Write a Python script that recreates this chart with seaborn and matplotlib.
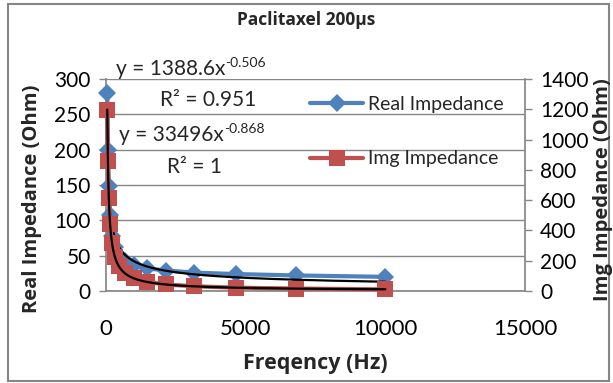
import numpy as np
import pandas as pd
import matplotlib
matplotlib.use("Agg")
import matplotlib.pyplot as plt
from matplotlib.patches import Rectangle
from matplotlib.lines import Line2D
import seaborn as sns

# Measured impedance of the Paclitaxel sample (200 µs pulse)
freq_hz = [46.4, 68.1, 100.0, 146.8, 215.4, 316.2, 464.2, 681.3, 1000.0,
           1467.8, 2154.4, 3162.3, 4641.6, 6812.9, 10000.0]
real_ohm = [280, 200, 148, 107, 78, 62, 50, 43, 37, 32, 29, 26, 24, 22, 20]
img_ohm = [1198, 858, 615, 441, 316, 227, 162, 116, 83, 60, 43, 31, 22, 16, 11]

# Power-law trendlines y = a * x^b with their R² values
real_fit = (1388.6, -0.506, "0.951")
img_fit = (33496, -0.868, "1")

x_ticks = [0, 5000, 10000, 15000]
real_ticks = [0, 50, 100, 150, 200, 250, 300]
img_ticks = [0, 200, 400, 600, 800, 1000, 1200, 1400]

BLUE = "#4F81BD"
RED = "#C0504D"
GREY = "#868686"

sns.set_theme(style="white")
plt.rcParams["font.family"] = ["Lato", "DejaVu Sans"]
BOLD = ["Open Sans", "DejaVu Sans"]

W, H = 613, 383
fig = plt.figure(figsize=(W / 100, H / 100), dpi=100)


def fx(px):
    return px / W


def fy(py):
    return 1 - py / H


# Chart border
fig.add_artist(Rectangle((fx(8), fy(381)), fx(601), 1 - 6 / H, transform=fig.transFigure,
                         fill=False, edgecolor=GREY, lw=1.5))

left, right, top, bottom = 106, 525, 79, 291
ax = fig.add_axes([fx(left), fy(bottom), fx(right - left), (bottom - top) / H])
ax2 = ax.twinx()

df = pd.DataFrame({"freq": freq_hz, "real": real_ohm, "img": img_ohm})

sns.lineplot(data=df, x="freq", y="real", ax=ax, color=BLUE, lw=3, marker="D",
             markersize=9.5, markeredgewidth=0, label="Real Impedance", legend=False,
             clip_on=False, zorder=3)
sns.lineplot(data=df, x="freq", y="img", ax=ax2, color=RED, lw=3, marker="s",
             markersize=11, markeredgewidth=0, label="Img Impedance", legend=False,
             clip_on=False, zorder=3)

# Trendlines
xs = np.geomspace(min(freq_hz), max(freq_hz), 400)
ax.plot(xs, real_fit[0] * xs ** real_fit[1], color="black", lw=1.6, zorder=4, clip_on=False)
ax2.plot(xs, img_fit[0] * xs ** img_fit[1], color="black", lw=1.6, zorder=4, clip_on=False)

ax.set_xlim(0, 15000)
ax.set_ylim(0, 300)
ax2.set_ylim(0, 1400)
ax.set_xticks(x_ticks)
ax.set_yticks(real_ticks)
ax2.set_yticks(img_ticks)
ax.set_xticklabels([str(t) for t in x_ticks], fontsize=16)
ax.set_yticklabels([str(t) for t in real_ticks], fontsize=15)
ax2.set_yticklabels([str(t) for t in img_ticks], fontsize=15)

ax.yaxis.grid(True, color=GREY, lw=1)
ax.xaxis.grid(False)
ax2.grid(False)
for a in (ax, ax2):
    for s in a.spines.values():
        s.set_visible(False)
        s.set_color(GREY)
ax.spines["left"].set_visible(True)
ax.spines["bottom"].set_visible(True)
ax2.spines["right"].set_visible(True)
for a in (ax, ax2):
    a.tick_params(axis="both", direction="out", length=5, width=1, color=GREY,
                  labelcolor="black", pad=4)
ax.tick_params(axis="x", pad=15)
ax.tick_params(axis="y", pad=6)
ax2.tick_params(axis="y", pad=6)
ax.set_xlabel("")
ax.set_ylabel("")
ax2.set_ylabel("")

fig.text(fx(306), fy(20), "Paclitaxel 200µs", ha="center", va="center",
         fontsize=12.5, fontweight="bold", family=BOLD)
fig.text(fx(315), fy(363), "Freqency (Hz)", ha="center", va="center",
         fontsize=15.5, fontweight="bold", family=BOLD)
fig.text(fx(32), fy(199), "Real Impedance (Ohm)", ha="center", va="center",
         rotation=90, fontsize=14.5, fontweight="bold", family=BOLD)
fig.text(fx(603), fy(190), "Img Impedance (Ohm)", ha="center", va="center",
         rotation=90, fontsize=14.5, fontweight="bold", family=BOLD)


def equation(x, y, fit, r_x, r_y):
    base = fig.text(fx(x), fy(y), f"y = {fit[0]:g}x", ha="left", va="center", fontsize=15)
    ax2.annotate(f"-{abs(fit[1])}", xy=(1, 0.8), xycoords=base, ha="left", va="center",
                 fontsize=10, annotation_clip=False, clip_on=False)
    fig.text(fx(r_x), fy(r_y), f"R² = {fit[2]}", ha="left", va="center", fontsize=15)


equation(116, 69, real_fit, 160, 100)
equation(119, 135, img_fit, 167, 167)

handles = [Line2D([], [], color=BLUE, lw=3, marker="D", ms=9.5, mew=0),
           Line2D([], [], color=RED, lw=3, marker="s", ms=11, mew=0)]
leg = ax2.legend(handles, ["Real Impedance", "Img Impedance"], loc="center left",
                 bbox_to_anchor=(fx(310), fy(131.5)), bbox_transform=fig.transFigure,
                 frameon=False, fontsize=14, handlelength=2.75, handletextpad=0.25,
                 labelspacing=1.95, borderpad=0, borderaxespad=0, numpoints=1)
leg.set_zorder(10)

fig.savefig("out.png", dpi=100)
